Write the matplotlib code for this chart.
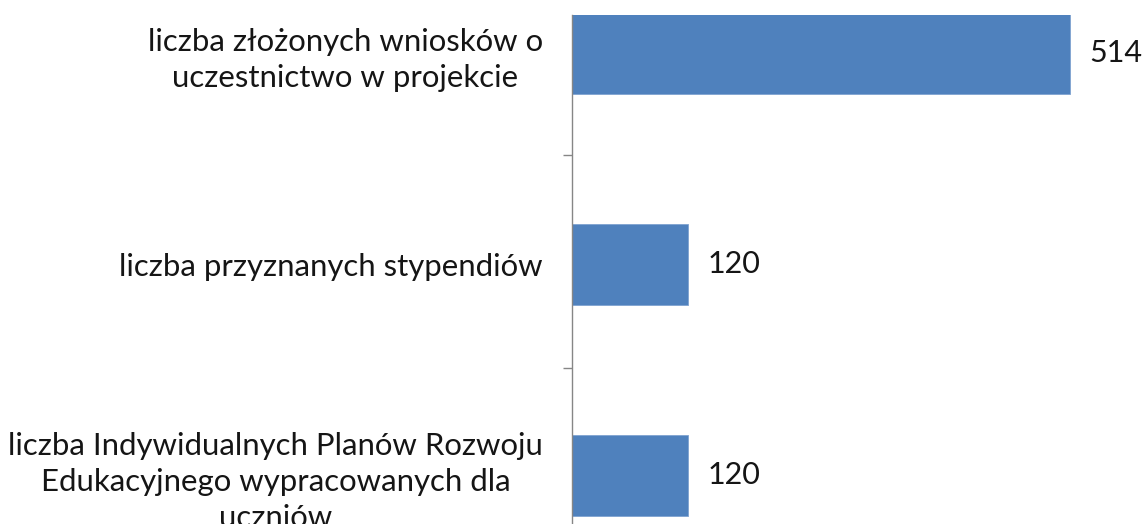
import matplotlib.pyplot as plt

categories = [
    "liczba złożonych wniosków o\nuczestnictwo w projekcie",
    "liczba przyznanych stypendiów",
    "liczba Indywidualnych Planów Rozwoju\nEdukacyjnego wypracowanych dla\nuczniów",
]
values = [514, 120, 120]

plt.rcParams['font.family'] = ['Lato', 'DejaVu Sans']

W, H = 1146, 524
fig = plt.figure(figsize=(W / 100, H / 100), dpi=100)
ax = fig.add_axes([572 / W, 0, 1 - 572 / W, 1 - 15 / H])

pos = list(range(len(categories)))
ax.barh(pos, values, height=0.38, color='#4F81BD', edgecolor='#7FA3D0', linewidth=0.6)

ax.set_xlim(0, (W - 572) / 0.969)
ax.set_ylim(2.23, -0.182)

for spine in ['top', 'right', 'bottom']:
    ax.spines[spine].set_visible(False)
ax.spines['left'].set_color('#868686')
ax.spines['left'].set_linewidth(1.0)
ax.set_xticks([])

ax.set_yticks(pos)
ax.set_yticklabels(categories, fontsize=22.4, color='#151515')
ax.tick_params(axis='y', which='major', length=0, pad=21)
ax.set_yticks([0.48, 1.49], minor=True)
ax.tick_params(axis='y', which='minor', length=6.5, width=1.0, color='#868686')
for lab in ax.get_yticklabels():
    lab.set_multialignment('center')
    lab.set_linespacing(1.35)

for p, v in zip(pos, values):
    ax.text(v + 20, p, str(v), va='center', ha='left', fontsize=22, color='#151515')

fig.savefig('out.png', dpi=100)
